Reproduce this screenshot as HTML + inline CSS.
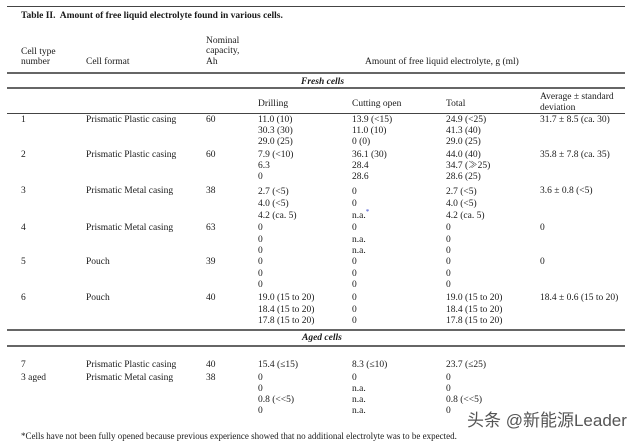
<!DOCTYPE html>
<html>
<head>
<meta charset="utf-8">
<style>
  html,body{margin:0;padding:0;background:#fff;}
  body{width:640px;height:445px;position:relative;overflow:hidden;
       font-family:"Liberation Serif","Noto Serif CJK SC",serif;color:#1a1a1a;}
  .t{position:absolute;font-size:9.5px;line-height:11px;white-space:nowrap;}
  .r{position:absolute;left:7px;width:618px;height:1px;background:#444;}
  .r2{position:absolute;left:7px;width:618px;height:2px;background:#666;}
  .b{font-weight:bold;}
  .bi{font-weight:bold;font-style:italic;}
  #w{position:absolute;left:0;top:2px;width:640px;height:445px;}
</style>
</head>
<body>
<div class="r" style="top:6px"></div>
<div class="r2" style="top:72px"></div>
<div class="r2" style="top:87px"></div>
<div class="r" style="top:113px"></div>
<div class="r2" style="top:329px"></div>
<div class="r2" style="top:345px"></div>

<div id="w">
<div class="t b" style="left:21px;top:9px">Table II.&nbsp; Amount of free liquid electrolyte found in various cells.</div>

<div class="t" style="left:206px;top:34px">Nominal</div>
<div class="t" style="left:206px;top:44px">capacity,</div>
<div class="t" style="left:206px;top:55px">Ah</div>
<div class="t" style="left:21px;top:45px">Cell type</div>
<div class="t" style="left:21px;top:55px">number</div>
<div class="t" style="left:86px;top:55px">Cell format</div>
<div class="t" style="left:365px;top:55px">Amount of free liquid electrolyte, g (ml)</div>

<div class="t bi" style="left:301px;top:75px">Fresh cells</div>

<div class="t" style="left:258px;top:97px">Drilling</div>
<div class="t" style="left:352px;top:97px">Cutting open</div>
<div class="t" style="left:446px;top:97px">Total</div>
<div class="t" style="left:540px;top:90px">Average ± standard</div>
<div class="t" style="left:540px;top:101px">deviation</div>

<!-- Row 1 -->
<div class="t" style="left:21px;top:113px">1</div>
<div class="t" style="left:86px;top:113px">Prismatic Plastic casing</div>
<div class="t" style="left:206px;top:113px">60</div>
<div class="t" style="left:258px;top:113px">11.0 (10)<br>30.3 (30)<br>29.0 (25)</div>
<div class="t" style="left:352px;top:113px">13.9 (&lt;15)<br>11.0 (10)<br>0 (0)</div>
<div class="t" style="left:446px;top:113px">24.9 (&lt;25)<br>41.3 (40)<br>29.0 (25)</div>
<div class="t" style="left:540px;top:113px">31.7 ± 8.5 (ca. 30)</div>

<!-- Row 2 -->
<div class="t" style="left:21px;top:148px">2</div>
<div class="t" style="left:86px;top:148px">Prismatic Plastic casing</div>
<div class="t" style="left:206px;top:148px">60</div>
<div class="t" style="left:258px;top:148px">7.9 (&lt;10)<br>6.3<br>0</div>
<div class="t" style="left:352px;top:148px">36.1 (30)<br>28.4<br>28.6</div>
<div class="t" style="left:446px;top:148px">44.0 (40)<br>34.7 (≫25)<br>28.6 (25)</div>
<div class="t" style="left:540px;top:148px">35.8 ± 7.8 (ca. 35)</div>

<!-- Row 3 -->
<div class="t" style="left:21px;top:184px">3</div>
<div class="t" style="left:86px;top:184px">Prismatic Metal casing</div>
<div class="t" style="left:206px;top:184px">38</div>
<div class="t" style="left:258px;top:184px;line-height:12px">2.7 (&lt;5)<br>4.0 (&lt;5)<br>4.2 (ca. 5)</div>
<div class="t" style="left:352px;top:184px;line-height:12px">0<br>0<br>n.a.<sup style="color:#3344cc;font-size:7px;line-height:0">*</sup></div>
<div class="t" style="left:446px;top:184px;line-height:12px">2.7 (&lt;5)<br>4.0 (&lt;5)<br>4.2 (ca. 5)</div>
<div class="t" style="left:540px;top:184px">3.6 ± 0.8 (&lt;5)</div>

<!-- Row 4 -->
<div class="t" style="left:21px;top:221px">4</div>
<div class="t" style="left:86px;top:221px">Prismatic Metal casing</div>
<div class="t" style="left:206px;top:221px">63</div>
<div class="t" style="left:258px;top:221px;line-height:11.5px">0<br>0<br>0</div>
<div class="t" style="left:352px;top:221px;line-height:11.5px">0<br>n.a.<br>n.a.</div>
<div class="t" style="left:446px;top:221px;line-height:11.5px">0<br>0<br>0</div>
<div class="t" style="left:540px;top:221px">0</div>

<!-- Row 5 -->
<div class="t" style="left:21px;top:255px">5</div>
<div class="t" style="left:86px;top:255px">Pouch</div>
<div class="t" style="left:206px;top:255px">39</div>
<div class="t" style="left:258px;top:255px;line-height:11.5px">0<br>0<br>0</div>
<div class="t" style="left:352px;top:255px;line-height:11.5px">0<br>0<br>0</div>
<div class="t" style="left:446px;top:255px;line-height:11.5px">0<br>0<br>0</div>
<div class="t" style="left:540px;top:255px">0</div>

<!-- Row 6 -->
<div class="t" style="left:21px;top:291px">6</div>
<div class="t" style="left:86px;top:291px">Pouch</div>
<div class="t" style="left:206px;top:291px">40</div>
<div class="t" style="left:258px;top:291px;line-height:11.5px">19.0 (15 to 20)<br>18.4 (15 to 20)<br>17.8 (15 to 20)</div>
<div class="t" style="left:352px;top:291px;line-height:11.5px">0<br>0<br>0</div>
<div class="t" style="left:446px;top:291px;line-height:11.5px">19.0 (15 to 20)<br>18.4 (15 to 20)<br>17.8 (15 to 20)</div>
<div class="t" style="left:540px;top:291px">18.4 ± 0.6 (15 to 20)</div>

<div class="t bi" style="left:302px;top:331px">Aged cells</div>

<!-- Row 7 -->
<div class="t" style="left:21px;top:358px">7</div>
<div class="t" style="left:86px;top:358px">Prismatic Plastic casing</div>
<div class="t" style="left:206px;top:358px">40</div>
<div class="t" style="left:258px;top:358px">15.4 (≤15)</div>
<div class="t" style="left:352px;top:358px">8.3 (≤10)</div>
<div class="t" style="left:446px;top:358px">23.7 (≤25)</div>

<!-- Row 3 aged -->
<div class="t" style="left:21px;top:371px">3 aged</div>
<div class="t" style="left:86px;top:371px">Prismatic Metal casing</div>
<div class="t" style="left:206px;top:371px">38</div>
<div class="t" style="left:258px;top:371px">0<br>0<br>0.8 (&lt;&lt;5)<br>0</div>
<div class="t" style="left:352px;top:371px">0<br>n.a.<br>n.a.<br>n.a.</div>
<div class="t" style="left:446px;top:371px">0<br>0<br>0.8 (&lt;&lt;5)<br>0</div>

<div class="t" style="left:467px;top:409px;font-family:'Liberation Sans','Noto Sans CJK SC',sans-serif;font-size:17px;line-height:20px;color:#555;">头条 @新能源Leader</div>

<div class="t" style="left:21px;top:429px;font-size:9px">*Cells have not been fully opened because previous experience showed that no additional electrolyte was to be expected.</div>
</div>
</body>
</html>
